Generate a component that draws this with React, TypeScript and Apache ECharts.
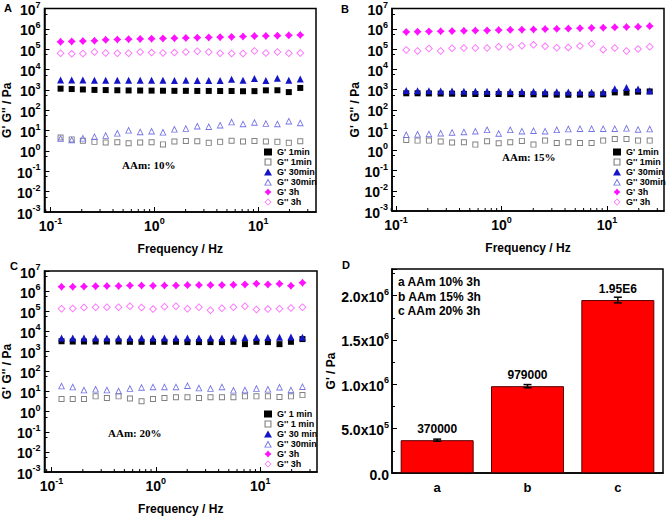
import React, { useEffect, useRef } from 'react';
import * as echarts from 'echarts';

const FONT = '"Liberation Sans", Arial, sans-serif';
const SERIF = '"Liberation Serif", "Times New Roman", serif';

// Frequencies (Hz), shared by panels A-C
const freq = [0.125, 0.16, 0.205, 0.265, 0.34, 0.44, 0.565, 0.73, 0.94, 1.21, 1.56, 2.01, 2.59, 3.34, 4.3, 5.54, 7.14, 9.2, 11.85, 15.3, 19.7, 25.4];
const xMinorTicks = [0.09, 0.2, 0.3, 0.4, 0.5, 0.6, 0.7, 0.8, 0.9, 2, 3, 4, 5, 6, 7, 8, 9, 20, 30];

const namesAB = ["G' 1min", "G'' 1min", "G' 30min", "G'' 30min", "G' 3h", "G'' 3h"];
const namesC = ["G' 1 min", "G'' 1 min", "G' 30 min", "G'' 30min", "G' 3h", "G'' 3h"];

// Panel A, AAm 10%
const A_G1 = [1150, 1100, 1050, 1000, 980, 960, 940, 930, 920, 910, 900, 900, 890, 890, 880, 880, 860, 870, 950, 960, 780, 1250];
const A_GG1 = [4.6, 3.7, 3.2, 2.8, 2.6, 2.7, 2.4, 2.6, 2.7, 2.1, 2.9, 3.1, 3.0, 2.5, 2.8, 3.2, 2.9, 3.1, 2.9, 2.8, 2.5, 3.0];
const A_G30 = [3100, 3100, 3100, 3000, 3000, 3000, 3000, 3000, 3000, 3000, 2900, 3000, 2900, 2900, 2900, 3300, 3000, 3600, 2900, 3700, 3000, 3400];
const A_GG30 = [4.2, 3.6, 4.3, 5.2, 5.9, 7.6, 10.7, 8.9, 9.6, 8.5, 12, 13, 17, 16, 19, 27, 22, 26, 23, 22, 30, 24.5];
const A_G3h = [2.3e5, 2.4e5, 2.5e5, 2.6e5, 2.9e5, 3.0e5, 3.1e5, 3.2e5, 3.3e5, 3.4e5, 3.5e5, 3.6e5, 3.7e5, 3.8e5, 3.9e5, 4.0e5, 4.2e5, 4.4e5, 4.5e5, 4.6e5, 4.8e5, 5.0e5];
const A_GG3h = [6.3e4, 5.9e4, 6.1e4, 7.3e4, 6.5e4, 6.3e4, 6.3e4, 7.3e4, 6.8e4, 6.5e4, 6.8e4, 7.3e4, 7.9e4, 7.3e4, 6.3e4, 6.1e4, 6.1e4, 8.2e4, 6.5e4, 7.3e4, 6.3e4, 6.5e4];

// Panel B, AAm 15%
const B_G1 = [650, 650, 640, 630, 620, 610, 600, 600, 600, 590, 590, 580, 580, 560, 550, 560, 560, 580, 720, 700, 780, 800];
const B_GG1 = [3.2, 3.0, 3.0, 2.7, 2.4, 2.5, 1.9, 2.8, 2.2, 2.5, 2.9, 1.9, 3.0, 2.3, 2.5, 2.3, 2.3, 3.0, 3.6, 3.6, 3.0, 3.0];
const B_G30 = [880, 870, 860, 850, 840, 830, 820, 820, 810, 800, 800, 790, 780, 780, 760, 750, 740, 760, 1100, 1250, 1050, 860];
const B_GG30 = [6.0, 6.3, 6.6, 7.2, 7.8, 8.3, 9.0, 10.5, 7.0, 10.5, 9.0, 9.5, 9.0, 10.5, 11.5, 12, 12, 12, 12, 12.5, 11, 11.5];
const B_G3h = [7.0e5, 7.2e5, 7.4e5, 7.5e5, 7.7e5, 7.9e5, 8.1e5, 8.3e5, 8.6e5, 8.8e5, 9.0e5, 9.3e5, 9.6e5, 9.9e5, 1.02e6, 1.06e6, 1.1e6, 1.13e6, 1.18e6, 1.22e6, 1.25e6, 1.35e6];
const B_GG3h = [8.9e4, 7.9e4, 1.05e5, 7.9e4, 1.08e5, 1.12e5, 1.12e5, 1.12e5, 1.3e5, 1.25e5, 1.45e5, 1.6e5, 1.35e5, 1.16e5, 1.2e5, 1.4e5, 1.8e5, 9.3e4, 1.12e5, 7.9e4, 1.0e5, 1.3e5];

// Panel C, AAm 20%
const C_G1 = [3200, 3100, 3100, 3100, 3100, 3100, 3000, 3000, 3000, 3000, 3000, 2900, 2900, 2900, 2900, 3000, 2300, 3000, 2900, 2300, 3000, 4100];
const C_GG1 = [4.3, 4.3, 4.3, 5.8, 4.8, 5.8, 4.5, 3.3, 4.3, 4.8, 5.2, 5.2, 4.8, 5.2, 5.2, 5.2, 5.8, 5.8, 5.8, 5.4, 5.8, 6.7];
const C_G30 = [4600, 4600, 4600, 4600, 4600, 4600, 4600, 4600, 4600, 4600, 4600, 4600, 4600, 4600, 4600, 4600, 4900, 4900, 4900, 5000, 5200, 5000];
const C_GG30 = [19.5, 17.4, 12.3, 13.4, 12.3, 11.0, 14.7, 16.5, 17.5, 17.5, 17.5, 20.4, 15.5, 14.7, 17.5, 12, 12.3, 14.7, 13.4, 17, 12.5, 18];
const C_G3h = [1.65e6, 1.65e6, 1.7e6, 1.75e6, 1.8e6, 1.8e6, 1.9e6, 1.9e6, 1.85e6, 1.9e6, 1.9e6, 2.0e6, 2.0e6, 2.0e6, 2.0e6, 2.05e6, 2.15e6, 2.35e6, 2.15e6, 2.3e6, 1.85e6, 2.6e6];
const C_GG3h = [1.32e5, 1.37e5, 1.52e5, 1.58e5, 1.58e5, 1.58e5, 1.78e5, 1.52e5, 1.27e5, 1.65e5, 1.78e5, 1.32e5, 1.58e5, 1.12e5, 1.4e5, 1.58e5, 1.78e5, 1.22e5, 1.27e5, 1.32e5, 1.45e5, 1.58e5];

// Panel D
const barCats = ['a', 'b', 'c'];
const barValues = [370000, 979000, 1950000];
const barErrors = [12000, 18000, 32000];
const barLabels = ['370000', '979000', '1.95E6'];
const dLegend = ['a AAm 10% 3h', 'b AAm 15% 3h', 'c AAm 20% 3h'];

const SYM_STAR = 'path://M5,0 L7.3,2.7 L10,5 L7.3,7.3 L5,10 L2.7,7.3 L0,5 L2.7,2.7 Z';
const SYM_ERECT = 'path://M0,0 L10,0 L10,10 L0,10 Z M1.6,1.6 L1.6,8.4 L8.4,8.4 L8.4,1.6 Z';
const SYM_ETRI = 'path://M5,0 L10,9 L0,9 Z M5,2.6 L1.9,7.9 L8.1,7.9 Z';
const SYM_EDIA = 'path://M5,0 L10,5 L5,10 L0,5 Z M5,1.6 L1.6,5 L5,8.4 L8.4,5 Z';

const seriesStyle = [
  { symbol: 'rect', color: '#000000', size: 6 },
  { symbol: SYM_ERECT, color: '#808080', size: 6 },
  { symbol: 'triangle', color: '#1515c8', size: 7 },
  { symbol: SYM_ETRI, color: '#7373e6', size: 7 },
  { symbol: SYM_STAR, color: '#ff10ff', size: 8 },
  { symbol: SYM_EDIA, color: '#ff70ff', size: 8 },
];

const panels = [
  { names: namesAB, data: [A_G1, A_GG1, A_G30, A_GG30, A_G3h, A_GG3h], xmin: 0.0875, xmax: 36 },
  { names: namesAB, data: [B_G1, B_GG1, B_G30, B_GG30, B_G3h, B_GG3h], xmin: 0.0916, xmax: 34.7 },
  { names: namesC, data: [C_G1, C_GG1, C_G30, C_GG30, C_G3h, C_GG3h], xmin: 0.0858, xmax: 35 },
];

const grids = [
  { left: 44, top: 7, width: 272, height: 205 },
  { left: 392, top: 7, width: 272, height: 204 },
  { left: 43, top: 271, width: 274, height: 202 },
  { left: 392, top: 269, width: 271, height: 204 },
];

const rich = {
  b: { fontSize: 14, fontWeight: 'bold', fontFamily: FONT, color: '#000', verticalAlign: 'bottom', lineHeight: 17 },
  s: { fontSize: 9, fontWeight: 'bold', fontFamily: FONT, color: '#000', verticalAlign: 'top', lineHeight: 8 },
};

function powLabel(v: number) {
  const e = Math.log10(v);
  const r = Math.round(e);
  if (Math.abs(e - r) > 0.01) return '';
  return `{b|10}{s|${r}}`;
}

function sciLabel(v: number) {
  if (v === 0) return '{b|0.0}';
  const e = Math.floor(Math.log10(v) + 1e-9);
  const m = v / Math.pow(10, e);
  return `{b|${m.toFixed(1)}x10}{s|${e}}`;
}

const axisLine = { show: true, onZero: false, lineStyle: { color: '#000', width: 1.5 } };
const nameStyle = { fontFamily: FONT, fontWeight: 'bold', fontSize: 12, color: '#000' };

export default function App() {
  const ref = useRef<HTMLDivElement>(null);
  useEffect(() => {
    if (!ref.current) return;
    const chart = echarts.init(ref.current, undefined, { renderer: 'svg' });

    const xAxis: any[] = [];
    const yAxis: any[] = [];
    const series: any[] = [];
    const legend: any[] = [];

    panels.forEach((p, i) => {
      xAxis.push({
        type: 'log', logBase: 10, gridIndex: i, min: p.xmin, max: p.xmax,
        axisLine,
        axisTick: { show: true, inside: true, length: 5, lineStyle: { color: '#000', width: 1 } },
        axisLabel: { formatter: powLabel, rich, margin: 4, showMinLabel: false, showMaxLabel: false },
        splitLine: { show: false },
        name: 'Frequency / Hz', nameLocation: 'middle', nameGap: 31, nameTextStyle: nameStyle,
      });
      yAxis.push({
        type: 'log', logBase: 10, gridIndex: i, min: 0.001, max: 1e7, interval: 1,
        axisLine,
        axisTick: { show: true, inside: true, length: 5, lineStyle: { color: '#000', width: 1 } },
        minorTick: { show: true, splitNumber: 2, length: 3, lineStyle: { color: '#000', width: 1 } },
        axisLabel: { formatter: powLabel, rich, margin: 4 },
        splitLine: { show: false },
        name: "G' G'' / Pa", nameLocation: 'middle', nameGap: 27, nameTextStyle: nameStyle,
      });
      p.data.forEach((vals, k) => {
        const st = seriesStyle[k];
        series.push({
          type: 'scatter', name: p.names[k], xAxisIndex: i, yAxisIndex: i,
          symbol: st.symbol, symbolSize: st.size,
          itemStyle: { color: st.color, opacity: 1 },
          data: freq.map((f, j) => [f, vals[j]]),
          silent: true,
        });
      });
      series.push({
        type: 'custom', xAxisIndex: i, yAxisIndex: i, silent: true,
        data: xMinorTicks.map((v) => [v, 0.001]),
        renderItem: (_params: any, api: any) => {
          const pt = api.coord([api.value(0), api.value(1)]);
          return {
            type: 'line',
            shape: { x1: pt[0], y1: pt[1], x2: pt[0], y2: pt[1] - 3 },
            style: { stroke: '#000', lineWidth: 1 },
          };
        },
      });
    });

    legend.push(
      { data: namesAB, left: 264, top: 147 },
      { data: namesAB, left: 613, top: 147 },
      { data: namesC, left: 264, top: 409 },
    );
    legend.forEach((l) => {
      Object.assign(l, {
        orient: 'vertical', itemWidth: 8, itemHeight: 7, itemGap: 0, selectedMode: false, padding: 0,
        textStyle: { fontFamily: FONT, fontWeight: 'bold', fontSize: 9, color: '#000', lineHeight: 10 },
      });
    });

    // Panel D
    xAxis.push({
      type: 'category', gridIndex: 3, data: barCats,
      axisLine,
      axisTick: { show: false },
      axisLabel: { fontFamily: FONT, fontWeight: 'bold', fontSize: 13, color: '#000', margin: 8 },
    });
    yAxis.push({
      type: 'value', gridIndex: 3, min: 0, max: 2.3e6, interval: 5e5,
      axisLine,
      axisTick: { show: true, inside: true, length: 5, lineStyle: { color: '#000', width: 1 } },
      minorTick: { show: true, splitNumber: 2, length: 3, lineStyle: { color: '#000', width: 1 } },
      axisLabel: { formatter: sciLabel, rich, margin: 3, showMaxLabel: false },
      splitLine: { show: false },
      name: "G' / Pa", nameLocation: 'middle', nameGap: 40, nameTextStyle: nameStyle,
    });
    series.push({
      type: 'bar', xAxisIndex: 3, yAxisIndex: 3, data: barValues, barWidth: 73,
      itemStyle: { color: '#ff0000', borderColor: '#5a0000', borderWidth: 1 },
      label: {
        show: true, position: 'top', distance: 5,
        formatter: (p: any) => barLabels[p.dataIndex],
        fontFamily: FONT, fontWeight: 'bold', fontSize: 12, color: '#000',
      },
      silent: true,
    });
    series.push({
      type: 'custom', xAxisIndex: 3, yAxisIndex: 3, silent: true, z: 5,
      data: barValues.map((v, i) => [i, v, barErrors[i]]),
      renderItem: (_params: any, api: any) => {
        const x = api.value(0);
        const v = api.value(1);
        const e = api.value(2);
        const top = api.coord([x, v + e]);
        const bot = api.coord([x, v - e]);
        const w = 4;
        const st = { stroke: '#000', lineWidth: 1.5 };
        return {
          type: 'group',
          children: [
            { type: 'line', shape: { x1: top[0], y1: top[1], x2: bot[0], y2: bot[1] }, style: st },
            { type: 'line', shape: { x1: top[0] - w, y1: top[1], x2: top[0] + w, y2: top[1] }, style: st },
            { type: 'line', shape: { x1: bot[0] - w, y1: bot[1], x2: bot[0] + w, y2: bot[1] }, style: st },
          ],
        };
      },
    });

    const letter = (t: string, x: number, y: number) => ({
      type: 'text', left: x, top: y,
      style: { text: t, fontFamily: FONT, fontWeight: 'bold', fontSize: 11, fill: '#000' },
    });
    const note = (t: string, x: number, y: number) => ({
      type: 'text', left: x, top: y,
      style: { text: t, fontFamily: SERIF, fontWeight: 'bold', fontSize: 11, fill: '#000' },
    });
    const graphic: any[] = [
      letter('A', 4, 2), letter('B', 341, 3), letter('C', 10, 260), letter('D', 342, 259),
      note('AAm: 10%', 122, 159), note('AAm: 15%', 502, 151), note('AAm: 20%', 108, 427),
      ...dLegend.map((t, i) => ({
        type: 'text', left: 398, top: 276 + i * 14.5,
        style: { text: t, fontFamily: FONT, fontWeight: 'bold', fontSize: 12, fill: '#000' },
      })),
    ];

    chart.setOption({
      animation: false,
      backgroundColor: '#fff',
      textStyle: { fontFamily: FONT },
      grid: grids.map((g) => ({ ...g, show: true, borderColor: '#000', borderWidth: 1.5, backgroundColor: 'transparent' })),
      xAxis, yAxis, series, legend, graphic,
    });
    return () => chart.dispose();
  }, []);
  return <div ref={ref} style={{ position: 'absolute', left: 0, top: 0, width: 667, height: 516 }} />;
}
